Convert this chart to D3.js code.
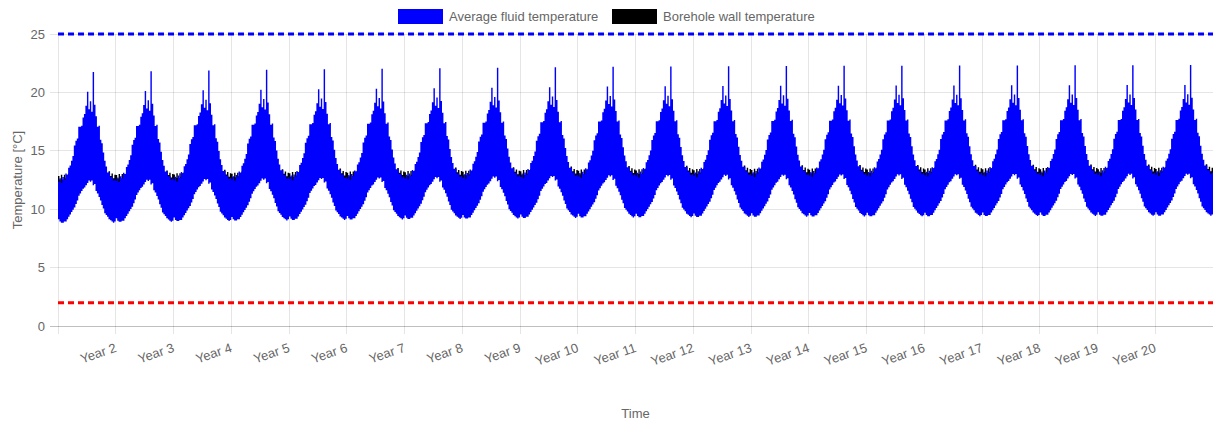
<!DOCTYPE html>
<html lang="en">
  <head>
    <meta charset="UTF-8" />
    <title>Borehole temperatures</title>
    <style>
      body { margin: 0; background: #fff; }
      svg text { font-family: "Liberation Sans", Arial, Helvetica, sans-serif; fill: #666; }
    </style>
  </head>
  <body>
    <svg id="svg" width="1215" height="423"></svg>

    <script src="https://d3js.org/d3.v7.min.js"></script>
    <script>
      // tick labels
      const yTicks = [0, 5, 10, 15, 20, 25];
      const xTickLabels = ["Year 2", "Year 3", "Year 4", "Year 5", "Year 6", "Year 7", "Year 8", "Year 9", "Year 10",
        "Year 11", "Year 12", "Year 13", "Year 14", "Year 15", "Year 16", "Year 17", "Year 18", "Year 19", "Year 20"];
      const legendLabels = ["Average fluid temperature", "Borehole wall temperature"];

      // limits shown as dashed lines
      const maxFluidLimit = 25;
      const minFluidLimit = 2;

      // typical year (read off year 10), envelope of the hourly values
      const profileDay = [0, 9, 18, 27, 37, 46, 55, 64, 73, 82, 91, 100, 110, 119, 128, 137, 146, 155, 164, 173,
        183, 192, 201, 210, 219, 228, 237, 246, 256, 265, 274, 283, 292, 301, 310, 319, 329, 338, 347, 356];
      const fluidHigh = [12.8, 13.1, 12.7, 13.2, 13.0, 13.5, 13.4, 14.0, 14.2, 14.6, 15.0, 15.9, 16.3, 16.5, 17.5, 17.5, 17.6, 18.3, 18.6, 19.3,
        20.5, 19.0, 19.7, 18.8, 22.2, 19.4, 18.4, 17.5, 17.6, 16.4, 16.1, 15.3, 14.6, 14.1, 13.6, 13.6, 13.2, 13.2, 12.9, 13.0];
      const fluidLow = [9.6, 9.4, 9.3, 9.3, 9.4, 9.4, 9.6, 9.8, 10.0, 10.2, 10.4, 10.6, 10.9, 11.2, 11.6, 11.8, 12.0, 12.2, 12.3, 12.5,
        12.7, 12.9, 12.8, 12.9, 12.5, 12.6, 12.0, 11.8, 11.5, 11.2, 10.8, 10.5, 10.1, 9.95, 9.8, 9.6, 9.5, 9.4, 9.3, 9.4];
      const wallHigh = [13.3, 13.0, 13.4, 13.0, 13.4, 13.1, 13.4, 13.5, 13.6, 13.7, 13.8, 13.9, 14.0, 14.1, 14.2, 14.3, 14.3, 14.4, 14.4, 14.5,
        14.5, 14.5, 14.4, 14.4, 14.3, 14.2, 14.1, 14.0, 13.9, 13.8, 13.7, 13.6, 13.5, 13.5, 13.5, 13.7, 13.3, 13.5, 13.1, 13.4];
      const wallLow = [12.3, 12.2, 12.2, 12.3, 12.4, 12.5, 12.6, 12.7, 12.8, 12.9, 13.0, 13.1, 13.2, 13.3, 13.3, 13.4, 13.4, 13.5, 13.5, 13.5,
        13.5, 13.5, 13.5, 13.4, 13.4, 13.3, 13.2, 13.1, 13.0, 12.9, 12.8, 12.7, 12.6, 12.5, 12.5, 12.4, 12.4, 12.3, 12.3, 12.3];

      // shift of each simulated year relative to the typical year
      const yearOffset = [-0.45, -0.38, -0.32, -0.27, -0.22, -0.18, -0.14, -0.1, -0.05, 0, 0.02, 0.04, 0.06, 0.08, 0.09, 0.1, 0.11, 0.12, 0.13, 0.14];

      const fluidColor = "#0000ff";
      const wallColor = "#000000";

      const width = 1215;
      const height = 423;
      const margin = { left: 58, right: 2, top: 34, bottom: 97 };

      const xScale = d3.scaleLinear()
        .domain([0, yearOffset.length])
        .range([margin.left, width - margin.right]);

      const yScale = d3.scaleLinear()
        .domain([0, 25])
        .range([height - margin.bottom, margin.top]);

      // build the series year by year
      const fluid = [];
      const wall = [];
      yearOffset.forEach((off, yr) => {
        profileDay.forEach((day, i) => {
          const t = yr + day / 365;
          fluid.push({ t, lo: fluidLow[i] + off, hi: fluidHigh[i] + off });
          wall.push({ t, lo: wallLow[i] + off, hi: wallHigh[i] + off });
        });
      });
      const lastOff = yearOffset[yearOffset.length - 1];
      fluid.push({ t: yearOffset.length, lo: fluidLow[0] + lastOff, hi: fluidHigh[0] + lastOff });
      wall.push({ t: yearOffset.length, lo: wallLow[0] + lastOff, hi: wallHigh[0] + lastOff });

      const svg = d3.select("#svg");

      // grid
      const plotBottom = yScale(0);
      svg.append("g")
        .selectAll("line")
        .data(d3.range(0, yearOffset.length))
        .join("line")
        .attr("x1", (d) => xScale(d))
        .attr("x2", (d) => xScale(d))
        .attr("y1", margin.top)
        .attr("y2", plotBottom + 8)
        .attr("stroke", "rgba(0,0,0,0.1)")
        .attr("shape-rendering", "crispEdges");

      svg.append("g")
        .selectAll("line")
        .data(yTicks)
        .join("line")
        .attr("x1", margin.left - 8)
        .attr("x2", width - margin.right)
        .attr("y1", (d) => yScale(d))
        .attr("y2", (d) => yScale(d))
        .attr("stroke", (d) => (d === 0 ? "rgba(0,0,0,0.25)" : "rgba(0,0,0,0.1)"))
        .attr("shape-rendering", "crispEdges");

      // y tick labels
      svg.append("g")
        .selectAll("text")
        .data(yTicks)
        .join("text")
        .attr("x", margin.left - 13)
        .attr("y", (d) => yScale(d))
        .attr("dy", "0.35em")
        .attr("text-anchor", "end")
        .attr("font-size", 13)
        .text((d) => d);

      // x tick labels, rotated
      svg.append("g")
        .selectAll("text")
        .data(xTickLabels)
        .join("text")
        .attr("transform", (d, i) => `translate(${xScale(i + 1)},${plotBottom + 21}) rotate(-19)`)
        .attr("dy", "0.35em")
        .attr("text-anchor", "end")
        .attr("font-size", 13)
        .text((d) => d);

      // axis titles
      svg.append("text")
        .attr("transform", `translate(17,${(margin.top + plotBottom) / 2}) rotate(-90)`)
        .attr("dy", "0.35em")
        .attr("text-anchor", "middle")
        .attr("font-size", 13)
        .text("Temperature [°C]");

      svg.append("text")
        .attr("x", (margin.left + width - margin.right) / 2)
        .attr("y", 413)
        .attr("dy", "0.35em")
        .attr("text-anchor", "middle")
        .attr("font-size", 13)
        .text("Time");

      // series
      const band = d3.area()
        .x((d) => xScale(d.t))
        .y0((d) => yScale(d.lo))
        .y1((d) => yScale(d.hi))
        .curve(d3.curveStepAfter);

      svg.append("path").datum(wall).attr("d", band).attr("fill", wallColor);
      svg.append("path").datum(fluid).attr("d", band).attr("fill", fluidColor);

      // limit lines
      [[maxFluidLimit, fluidColor], [minFluidLimit, "#ff0000"]].forEach(([v, c]) => {
        svg.append("line")
          .attr("x1", xScale(0))
          .attr("x2", width - margin.right)
          .attr("y1", yScale(v))
          .attr("y2", yScale(v))
          .attr("stroke", c)
          .attr("stroke-width", 3)
          .attr("stroke-dasharray", "6,4");
      });

      // legend
      const legend = svg.append("g");
      const legendX = [398, 612];
      legendLabels.forEach((label, i) => {
        legend.append("rect")
          .attr("x", legendX[i])
          .attr("y", 9)
          .attr("width", 45)
          .attr("height", 15)
          .attr("fill", i === 0 ? fluidColor : wallColor);
        legend.append("text")
          .attr("x", legendX[i] + 51)
          .attr("y", 16.5)
          .attr("dy", "0.35em")
          .attr("font-size", 13)
          .text(label);
      });
    </script>
  </body>
</html>
